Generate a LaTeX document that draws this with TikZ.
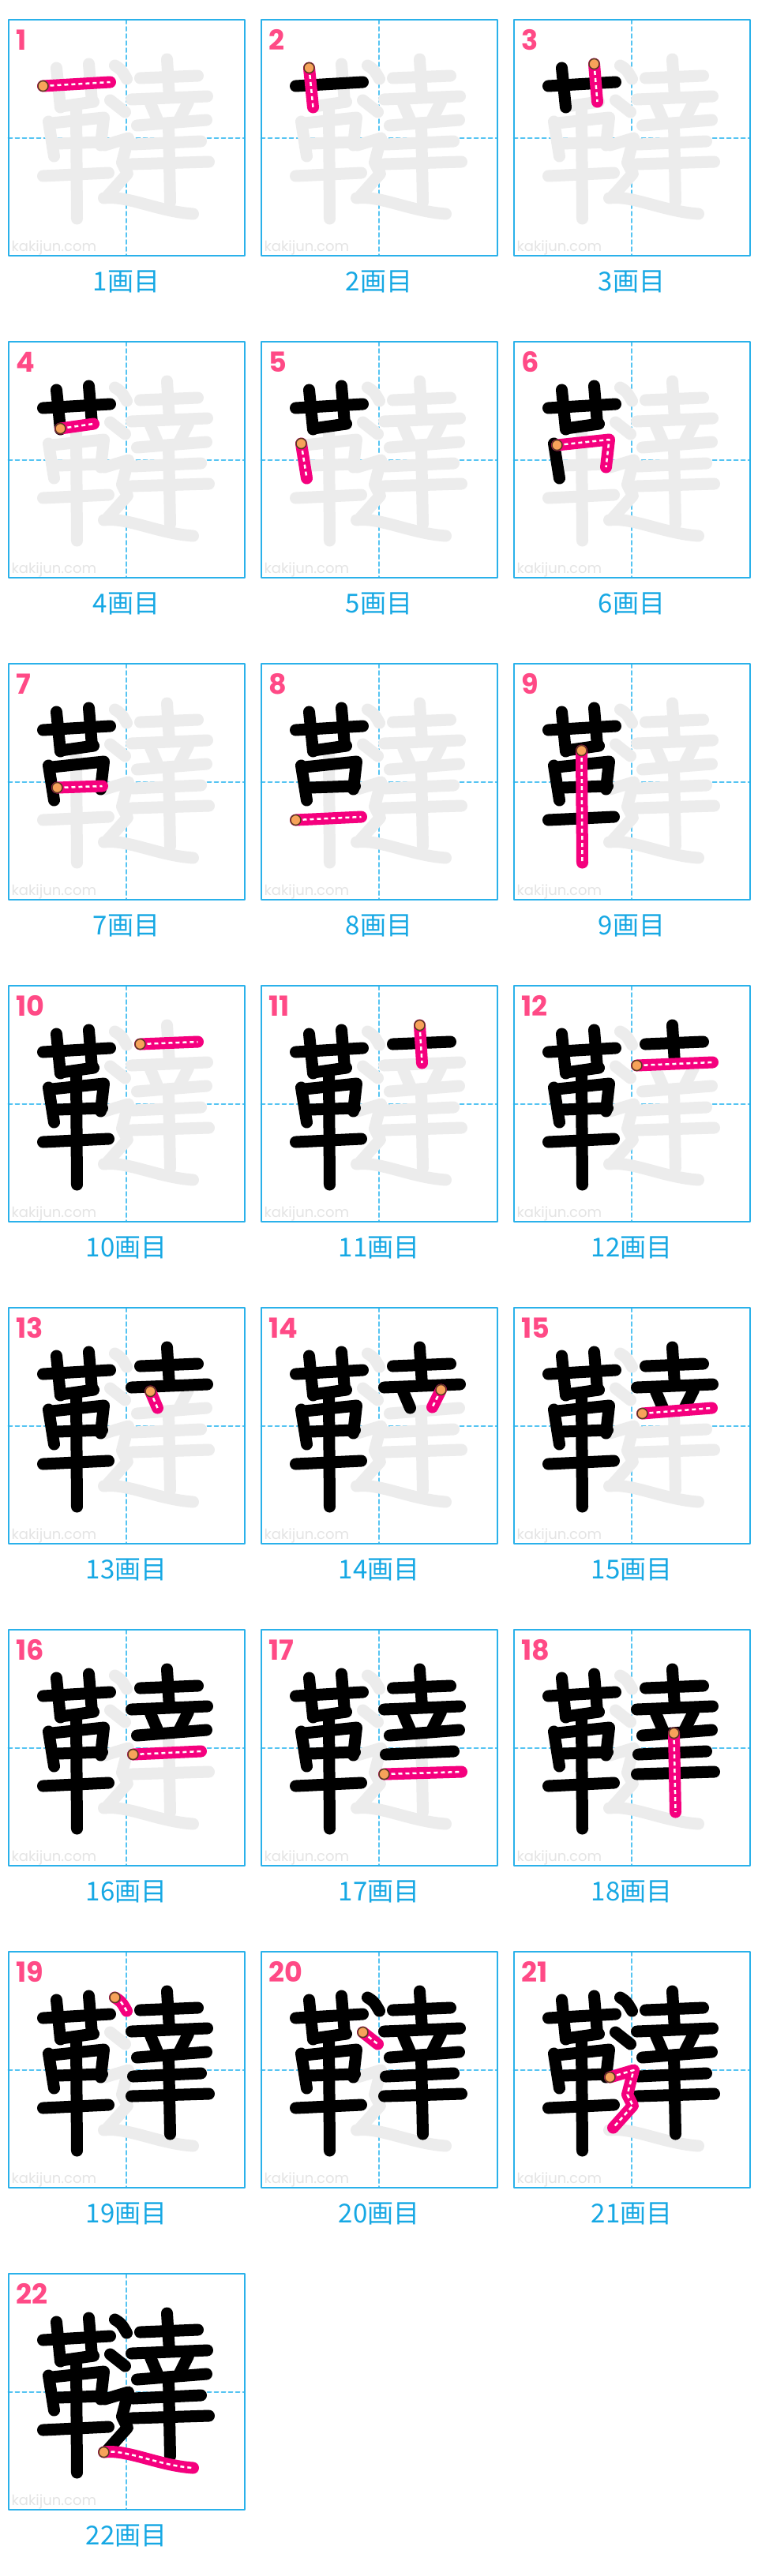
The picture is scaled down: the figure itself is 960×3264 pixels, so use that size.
\documentclass[tikz,border=0pt]{standalone}
\usepackage{fontspec}
\usepackage{xcolor}
\usepackage{tikz}
\usetikzlibrary{calc}

\newfontfamily\jpfont{Noto Sans CJK JP}
\newfontfamily\numfont{Poppins}

\definecolor{gridblue}{HTML}{2AB1EA}
\definecolor{guideblue}{HTML}{55C4F2}
\definecolor{capblue}{HTML}{16A8E4}
\definecolor{numpink}{HTML}{FF4A86}
\definecolor{hotpink}{HTML}{F5007E}
\definecolor{ghostgray}{HTML}{ECECEC}
\definecolor{wmgray}{HTML}{E4E4E4}
\definecolor{dotorange}{HTML}{F7A25A}
\definecolor{dotbrown}{HTML}{5A3A22}

% strokes of the character, cell coordinates 0..299
\newcommand{\kstroke}[2]{%
  \ifcase#1\or
  \draw[#2] (44,84) coordinate (s) -- (129,79);\or
  \draw[#2] (61,61) coordinate (s) -- (66,111);\or
  \draw[#2] (102,56) coordinate (s) -- (106,104);\or
  \draw[#2] (66,110) coordinate (s) -- (108,104);\or
  \draw[#2] (51,129) coordinate (s) -- (58,173);\or
  \draw[#2] (55,131) coordinate (s) -- (121,124) -- (117,159);\or
  \draw[#2] (62,157) coordinate (s) -- (119,155);\or
  \draw[#2] (44,198) coordinate (s) -- (127,194);\or
  \draw[#2] (86,110) coordinate (s) -- (87,252);\or
  \draw[#2] (167,74) coordinate (s) -- (240,71);\or
  \draw[#2] (201,50) coordinate (s) -- (204,98);\or
  \draw[#2] (156,101) coordinate (s) -- (252,97);\or
  \draw[#2] (180,106) coordinate (s) -- (189,127);\or
  \draw[#2] (228,104) coordinate (s) -- (217,126);\or
  \draw[#2] (163,134) coordinate (s) -- (251,127);\or
  \draw[#2] (158,158) coordinate (s) -- (244,154);\or
  \draw[#2] (156,183) coordinate (s) -- (254,180);\or
  \draw[#2] (203,131) coordinate (s) -- (205,231);\or
  \draw[#2] (135,58) coordinate (s) .. controls (143,63) .. (150,75);\or
  \draw[#2] (129,102) coordinate (s) -- (148,117);\or
  \draw[#2] (122,159) coordinate (s) -- (152,150) -- (144,181) -- (151,195) -- (126,223);\or
  \draw[#2] (121,226) coordinate (s) .. controls (150,222) and (190,243) .. (234,246);\fi}

\begin{document}
\begin{tikzpicture}[x=1pt, y=-1pt, line cap=round, line join=round,
    frame/.style={draw=gridblue, line width=2pt},
    guide/.style={draw=guideblue, line width=2pt, dash pattern=on 5pt off 4pt},
    ghost/.style={draw=ghostgray, line width=15pt},
    blk/.style={draw=black, line width=15pt},
    hot/.style={draw=hotpink, line width=15pt},
    dots/.style={draw=white, line width=2.5pt, line cap=butt, dash pattern=on 5pt off 4pt},
    startdot/.style={fill=dotorange, draw=dotbrown, line width=1.5pt},
    numlbl/.style={inner sep=0pt, text=numpink, font=\numfont\bfseries\fontsize{35}{35}\selectfont},
    caption/.style={inner sep=0pt, text=capblue, font=\jpfont\fontsize{33}{33}\selectfont},
    wmark/.style={inner sep=0pt, text=wmgray, font=\numfont\fontsize{18}{18}\selectfont}]
    % 1. Page
    \fill[white] (0,0) rectangle (960,3264);
    \useasboundingbox (0,0) rectangle (960,3264);

    % 2. One cell per stroke
    \foreach \n in {1,...,22} {
        \pgfmathtruncatemacro\col{mod(\n-1,3)}
        \pgfmathtruncatemacro\row{div(\n-1,3)}
        \pgfmathtruncatemacro\prev{\n-1}
        \begin{scope}[shift={(10.5+320*\col, 25+408*\row)}]
            \draw[guide] (149.5,0) -- (149.5,299);
            \draw[guide] (0,149.5) -- (299,149.5);
            \draw[frame] (0,0) rectangle (299,299);
            \node[wmark, anchor=base west] (wm\n) at (4,293) {kakijun.com};
            \node[numlbl, anchor=base west] (num\n) at (10,38) {\n};
            \node[caption, anchor=base] (cap\n) at (149.5,343) {\n{}画目};
            % 3. Strokes: ghost, done, current
            \foreach \k in {1,...,22} {\kstroke{\k}{ghost}}
            \ifnum\prev>0
                \foreach \k in {1,...,\prev} {\kstroke{\k}{blk}}
            \fi
            \kstroke{\n}{hot}
            \kstroke{\n}{dots}
            \draw[startdot] (s) circle (6.5);
        \end{scope}
    }
\end{tikzpicture}
\end{document}
